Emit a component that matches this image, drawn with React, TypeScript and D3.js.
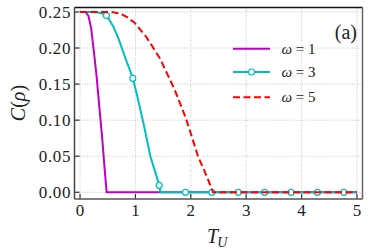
import React from "react";
import * as d3 from "d3";

const w1T = [0, 0.1, 0.15, 0.2, 0.25, 0.3, 0.35, 0.4, 0.45, 0.48, 5.0];
const w1C = [0.25, 0.25, 0.245, 0.228, 0.195, 0.16, 0.117, 0.075, 0.027, 0, 0];

const w3T = [0, 0.2, 0.3, 0.4, 0.48, 0.6, 0.7, 0.8, 0.95, 1.05, 1.15, 1.27, 1.35, 1.43, 1.45, 5.0];
const w3C = [0.25, 0.25, 0.2495, 0.248, 0.245, 0.23, 0.212, 0.19, 0.159, 0.128, 0.094, 0.05, 0.03, 0.0097, 0, 0];

const w3MarkT = [0.476, 0.952, 1.429, 1.905, 2.381, 2.857, 3.333, 3.81, 4.286, 4.762];
const w3MarkC = [0.245, 0.158, 0.0097, 0, 0, 0, 0, 0, 0, 0];

const w5T = [0, 0.5, 0.6, 0.72, 0.85, 0.99, 1.2, 1.44, 1.71, 1.91, 2.13, 2.3, 2.4, 5.0];
const w5C = [0.25, 0.25, 0.2495, 0.248, 0.243, 0.2346, 0.215, 0.186, 0.142, 0.103, 0.05, 0.02, 0, 0];

const xTicks = [0, 1, 2, 3, 4, 5];
const yTicks = [0, 0.05, 0.1, 0.15, 0.2, 0.25];
const legendLabels = ["1", "3", "5"];

const MAG = "#bf00bf";
const CYA = "#00bfbf";
const RED = "#ff0000";
const FONT = "'Liberation Serif', 'DejaVu Serif', serif";

export default function App() {
  const L = 74.5, R = 362.5, T = 7.5, B = 199;
  const x = d3.scaleLinear().domain([-0.1, 5.1]).range([L, R]);
  const y = d3.scaleLinear().domain([-0.0093, 0.2562]).range([B, T]);
  const line = d3.line<[number, number]>().x((d) => x(d[0])).y((d) => y(d[1]));
  const pts = (ts: number[], cs: number[]) => ts.map((t, i) => [t, cs[i]] as [number, number]);

  const legendY = [48.7, 72, 97.3];
  const legendColors = [MAG, CYA, RED];

  return (
    <svg width={374} height={249} style={{ position: "absolute", left: 0, top: 0 }}>
      <rect x={0} y={0} width={374} height={249} fill="#fff" />
      {xTicks.map((t) => (
        <line key={"gx" + t} x1={x(t)} x2={x(t)} y1={T} y2={B} stroke="#b8b8b8" strokeWidth={0.8} strokeDasharray="1,1.5" />
      ))}
      {yTicks.map((t) => (
        <line key={"gy" + t} x1={L} x2={R} y1={y(t)} y2={y(t)} stroke="#b8b8b8" strokeWidth={0.8} strokeDasharray="1,1.5" />
      ))}
      <defs>
        <clipPath id="clip">
          <rect x={L} y={T - 2} width={R - L} height={B - T + 2} />
        </clipPath>
      </defs>
      <g clipPath="url(#clip)">
        <path d={line(pts(w1T, w1C)) || ""} fill="none" stroke={MAG} strokeWidth={2} />
        <path d={line(pts(w3T, w3C)) || ""} fill="none" stroke={CYA} strokeWidth={2} />
        {w3MarkT.map((t, i) => (
          <circle key={"m" + i} cx={x(t)} cy={y(w3MarkC[i])} r={3} fill="#fff" stroke={CYA} strokeWidth={1.2} />
        ))}
        <path d={line(pts(w5T, w5C)) || ""} fill="none" stroke={RED} strokeWidth={2} strokeDasharray="7,3.5" />
      </g>
      {xTicks.map((t) => (
        <line key={"tx" + t} x1={x(t)} x2={x(t)} y1={B} y2={B - 5} stroke="#333" strokeWidth={1.2} />
      ))}
      {yTicks.map((t) => (
        <line key={"ty" + t} x1={L} x2={L + 5} y1={y(t)} y2={y(t)} stroke="#333" strokeWidth={1.2} />
      ))}
      <line x1={L} x2={R} y1={T} y2={T} stroke="#111" strokeWidth={1.5} />
      <line x1={L} x2={L} y1={T} y2={B} stroke="#444" strokeWidth={1.5} />
      <line x1={R} x2={R} y1={T} y2={B} stroke="#666" strokeWidth={1.5} />
      <line x1={L} x2={R} y1={B} y2={B} stroke="#555" strokeWidth={1.5} />
      {xTicks.map((t) => (
        <text key={"lx" + t} x={x(t)} y={216} textAnchor="middle" fontFamily={FONT} fontSize={17} fill="#222">
          {d3.format("d")(t)}
        </text>
      ))}
      {yTicks.map((t) => (
        <text key={"ly" + t} x={71} y={y(t) + 6} textAnchor="end" fontFamily={FONT} fontSize={17} fill="#222"
          letterSpacing={0.6}>
          {d3.format(".2f")(t)}
        </text>
      ))}
      <text transform="translate(25,103) rotate(-90)" textAnchor="middle" fontFamily={FONT} fontSize={20} fill="#222">
        <tspan fontStyle="italic">C</tspan>(<tspan fontStyle="italic">ρ</tspan>)
      </text>
      <text x={207} y={243} fontFamily={FONT} fontSize={20} fill="#222">
        <tspan fontStyle="italic">T</tspan>
        <tspan fontStyle="italic" fontSize={14} dy={4} dx={-1}>U</tspan>
      </text>
      <text x={357} y={39} textAnchor="end" fontFamily={FONT} fontSize={20} fill="#222">(a)</text>
      {legendLabels.map((lab, i) => (
        <g key={"lg" + i}>
          <line x1={233} x2={270} y1={legendY[i]} y2={legendY[i]} stroke={legendColors[i]} strokeWidth={2}
            strokeDasharray={i === 2 ? "7,3.5" : undefined} />
          {i === 1 && <circle cx={251.5} cy={legendY[i]} r={3} fill="#fff" stroke={CYA} strokeWidth={1.2} />}
          <text x={281.5} y={legendY[i] + 5} fontFamily={FONT} fontSize={15} fill="#222">
            <tspan fontStyle="italic">ω</tspan> = {lab}
          </text>
        </g>
      ))}
    </svg>
  );
}
